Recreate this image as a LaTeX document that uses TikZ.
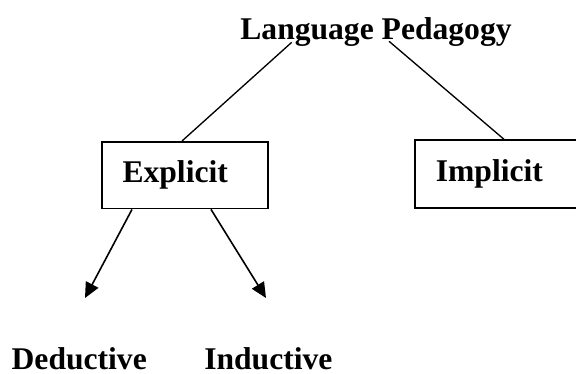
\documentclass[tikz,border=0pt]{standalone}
\usepackage{fontspec}
\setmainfont{Liberation Serif}
\usetikzlibrary{calc,arrows.meta}

\begin{document}
\begin{tikzpicture}[x=0.75pt,y=-0.75pt]
	\tikzstyle{every node}+=[inner sep=0pt, font=\fontsize{23.7}{28}\selectfont\bfseries]
	\tikzstyle{kindbox}=[draw=black, line width=1.3pt, align=left, anchor=north west]
	\tikzstyle{branch}=[black, line width=1pt]
	\tikzstyle{leadto}=[black, line width=1.2pt, -{Triangle[length=11.5pt,width=10.5pt]}]
	\clip (0,0) rectangle (576,374);
	\node [anchor=base] (pedagogy) at (376,39.3) {Language Pedagogy};
	\node [kindbox, minimum width=124.5pt, minimum height=50pt, inner xsep=15.5pt, text width=93.5pt] (explicit) at (101,141) {Explicit};
	\node [kindbox, minimum width=139.5pt, minimum height=51pt, inner xsep=15.75pt, text width=108pt] (implicit) at (414,139.3) {Implicit};
	\node [anchor=base west] (deductive) at (11.4,369.5) {Deductive};
	\node [anchor=base west] (inductive) at (204,369.5) {Inductive};
	\coordinate (dedtip) at (85,298);
	\coordinate (indtip) at (266,298);
	\draw [branch] ($(pedagogy.base west)!0.19!(pedagogy.base east)+(0,3)$) -- ($(explicit.north west)+(81,0)$);
	\draw [branch] ($(pedagogy.base west)!0.548!(pedagogy.base east)+(0,2)$) -- ($(implicit.north west)+(90,0)$);
	\draw [leadto] ($(explicit.south west)+(31,0)$) -- (dedtip);
	\draw [leadto] ($(explicit.south west)+(110,0)$) -- (indtip);
\end{tikzpicture}
\end{document}
